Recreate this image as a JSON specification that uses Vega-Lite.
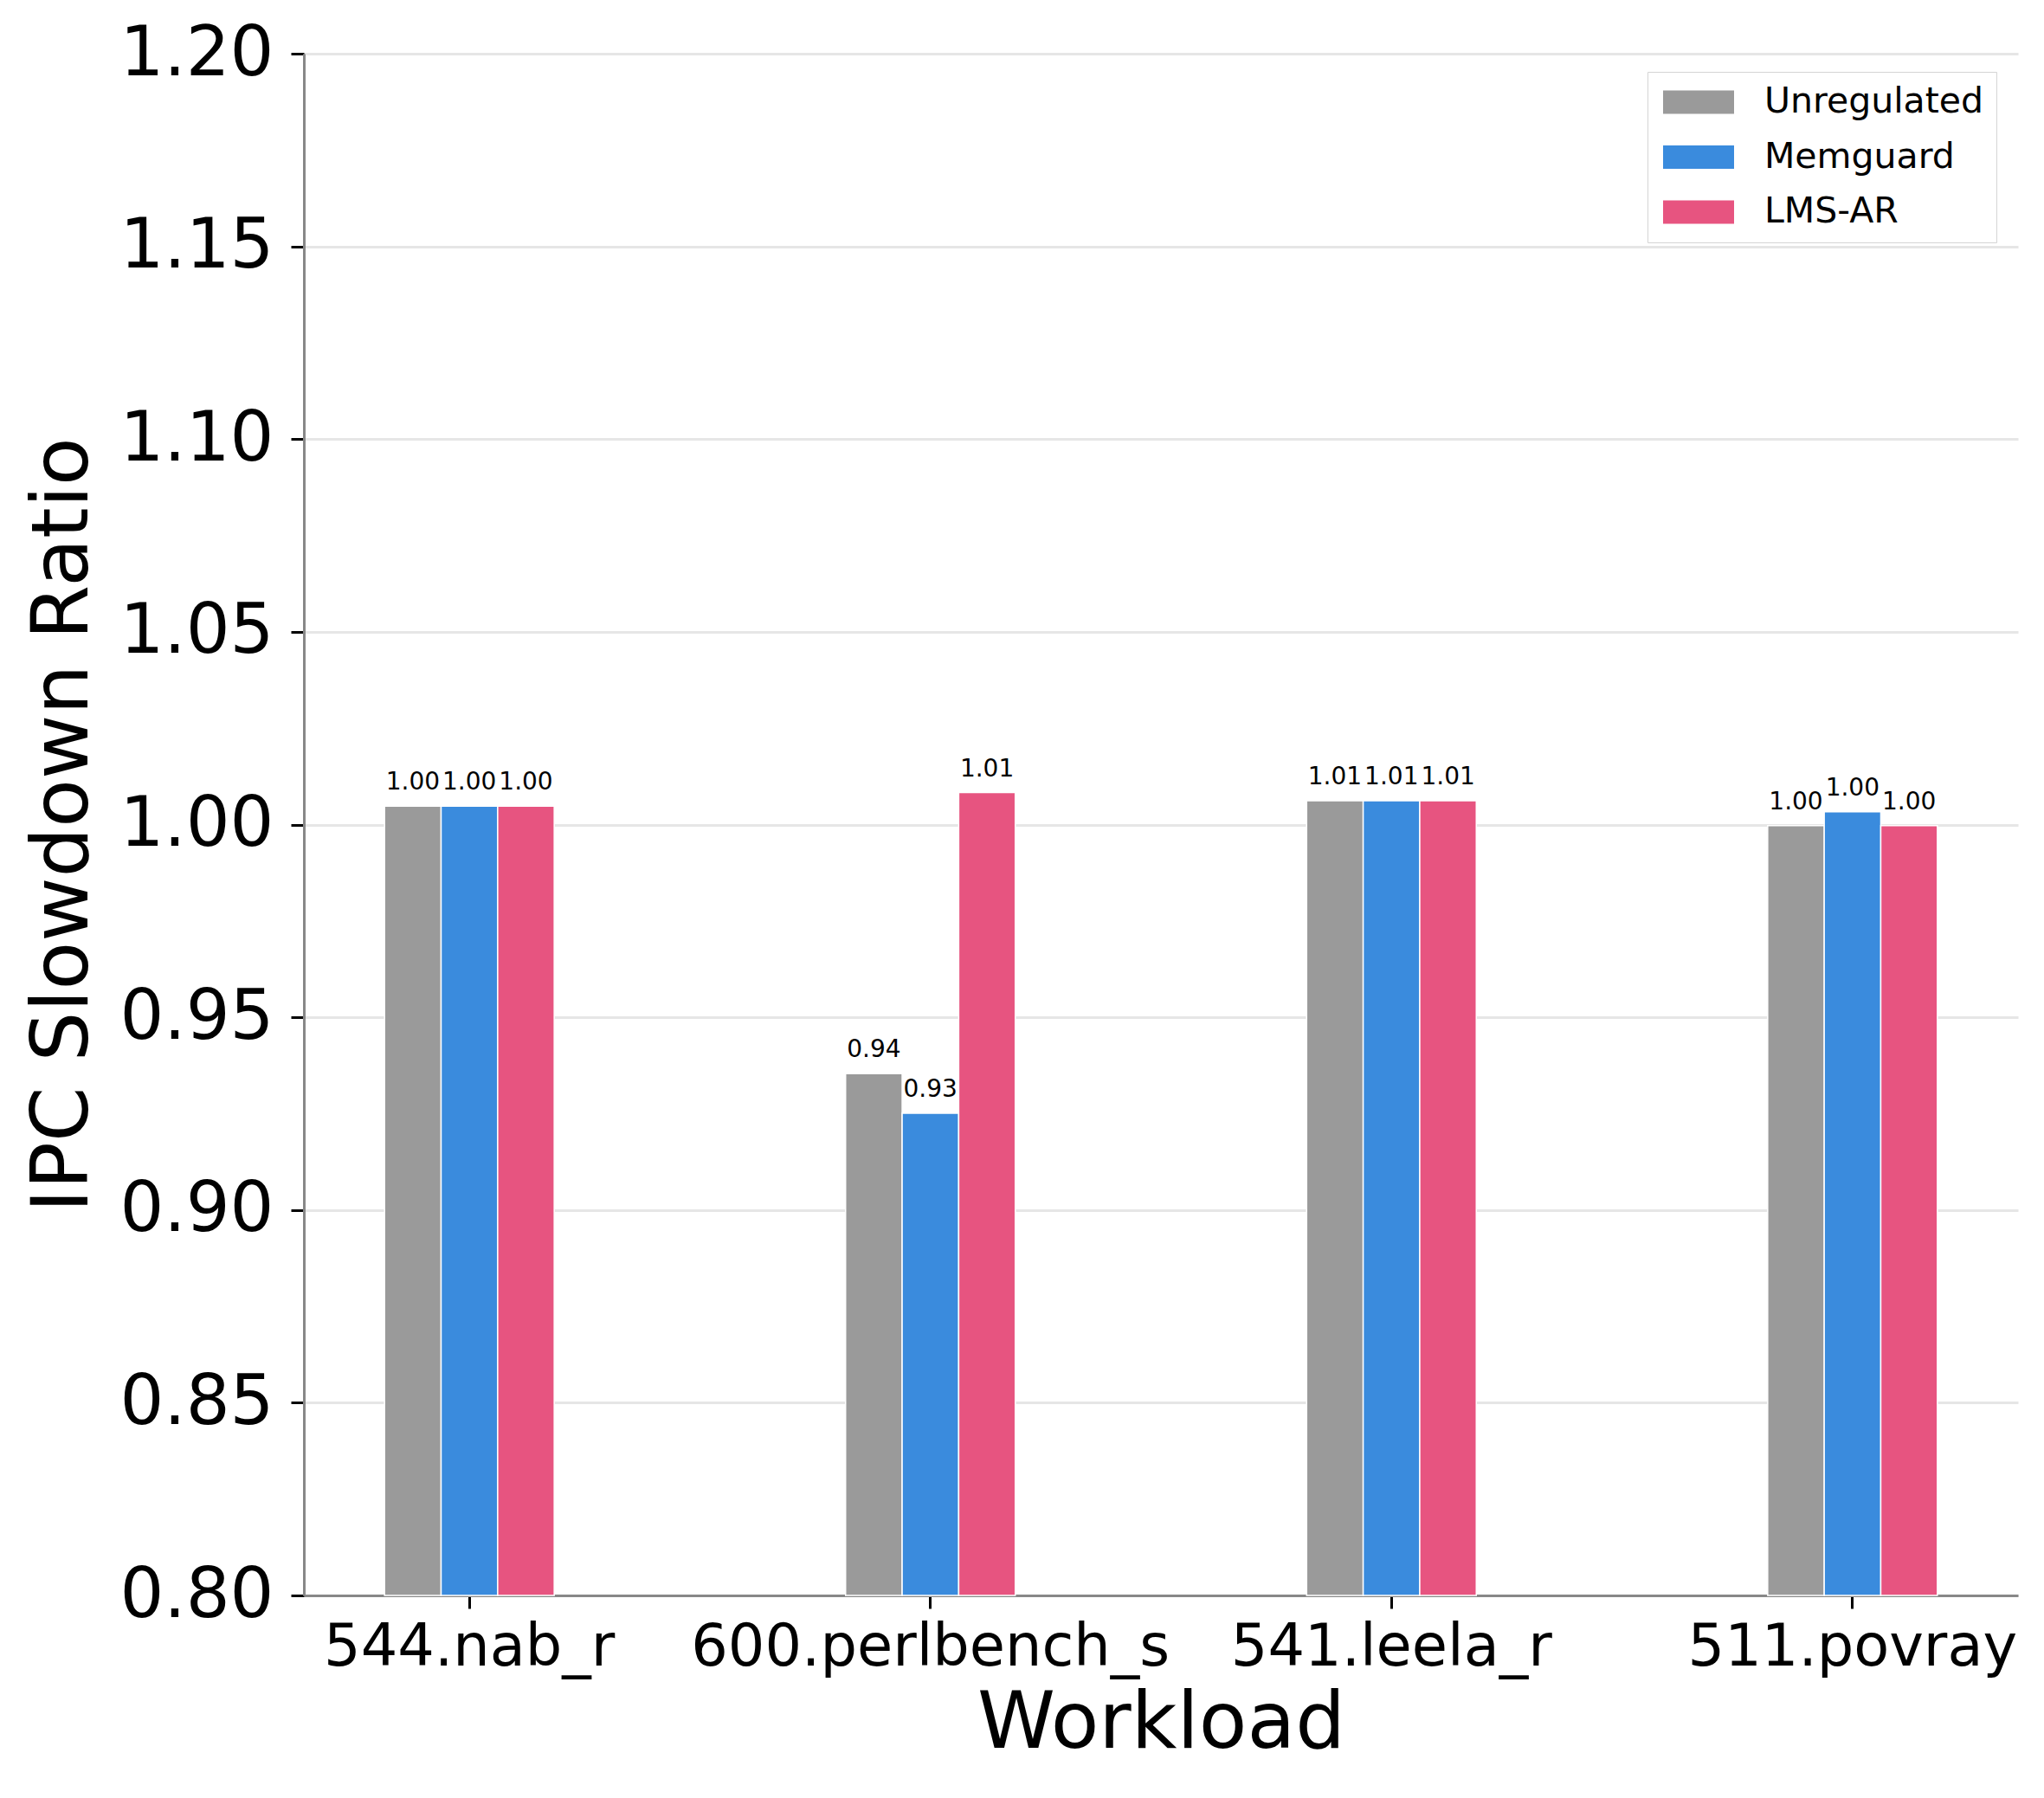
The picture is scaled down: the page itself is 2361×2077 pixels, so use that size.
{
  "$schema": "https://vega.github.io/schema/vega-lite/v6.json",
  "width": 1980,
  "height": 1781,
  "autosize": {"type": "none"},
  "padding": {"left": 351, "top": 62, "right": 30, "bottom": 234},
  "background": "white",
  "config": {
    "view": {"stroke": null},
    "font": "DejaVu Sans",
    "axis": {
      "labelFont": "DejaVu Sans",
      "titleFont": "DejaVu Sans",
      "labelColor": "black",
      "titleColor": "black",
      "titleFontWeight": "normal",
      "labelLimit": 0,
      "domainColor": "#888888",
      "domainWidth": 3,
      "tickColor": "black",
      "tickWidth": 3,
      "tickSize": 15
    }
  },
  "data": {
    "values": [
      {"workload": "544.nab_r", "method": "Unregulated", "ratio": 1.0048},
      {"workload": "544.nab_r", "method": "Memguard", "ratio": 1.0048},
      {"workload": "544.nab_r", "method": "LMS-AR", "ratio": 1.0048},
      {"workload": "600.perlbench_s", "method": "Unregulated", "ratio": 0.9354},
      {"workload": "600.perlbench_s", "method": "Memguard", "ratio": 0.9251},
      {"workload": "600.perlbench_s", "method": "LMS-AR", "ratio": 1.0083},
      {"workload": "541.leela_r", "method": "Unregulated", "ratio": 1.0062},
      {"workload": "541.leela_r", "method": "Memguard", "ratio": 1.0062},
      {"workload": "541.leela_r", "method": "LMS-AR", "ratio": 1.0062},
      {"workload": "511.povray", "method": "Unregulated", "ratio": 0.9997},
      {"workload": "511.povray", "method": "Memguard", "ratio": 1.0033},
      {"workload": "511.povray", "method": "LMS-AR", "ratio": 0.9997}
    ]
  },
  "encoding": {
    "x": {
      "field": "workload",
      "type": "nominal",
      "sort": ["544.nab_r", "600.perlbench_s", "541.leela_r", "511.povray"],
      "scale": {"paddingInner": 0.632, "paddingOuter": 0.175},
      "axis": {
        "title": "Workload",
        "labelAngle": 0,
        "labelFontSize": 67,
        "labelPadding": 12,
        "titleFontSize": 91,
        "titlePadding": 10,
        "grid": false
      }
    },
    "xOffset": {
      "field": "method",
      "type": "nominal",
      "sort": ["Unregulated", "Memguard", "LMS-AR"],
      "scale": {"paddingInner": 0, "paddingOuter": 0}
    }
  },
  "layer": [
    {
      "mark": {"type": "bar", "stroke": "white", "strokeWidth": 1.5},
      "encoding": {
        "y": {
          "field": "ratio",
          "type": "quantitative",
          "scale": {"domain": [0.8, 1.2], "zero": false, "nice": false},
          "axis": {
            "title": "IPC Slowdown Ratio",
            "values": [0.8, 0.85, 0.9, 0.95, 1.0, 1.05, 1.1, 1.15, 1.2],
            "format": ".2f",
            "labelFontSize": 80,
            "labelPadding": 20,
            "titleFontSize": 91,
            "titlePadding": 32,
            "grid": true,
            "gridColor": "#e6e6e6",
            "gridWidth": 3
          }
        },
        "y2": {"datum": 0.8},
        "color": {
          "field": "method",
          "type": "nominal",
          "sort": ["Unregulated", "Memguard", "LMS-AR"],
          "scale": {
            "domain": ["Unregulated", "Memguard", "LMS-AR"],
            "range": ["#9a9a9a", "#3a8bdd", "#e75480"]
          },
          "legend": {
            "title": null,
            "orient": "none",
            "legendX": 1552,
            "legendY": 21,
            "padding": 14.5,
            "fillColor": "white",
            "strokeColor": "#d5d5d5",
            "cornerRadius": 0,
            "symbolType": "M-2,-0.66H2V0.66H-2Z",
            "symbolSize": 1681,
            "symbolOffset": 24,
            "symbolStrokeWidth": 0,
            "symbolOpacity": 1,
            "labelFont": "DejaVu Sans",
            "labelFontSize": 41,
            "labelColor": "black",
            "labelLimit": 0,
            "labelOffset": 55.5,
            "rowPadding": 21.5,
            "encode": {
              "legend": {"update": {"strokeWidth": {"value": 3.3}}}
            }
          }
        }
      }
    },
    {
      "mark": {
        "type": "text",
        "baseline": "alphabetic",
        "align": "center",
        "dy": -19,
        "fontSize": 28,
        "font": "DejaVu Sans",
        "color": "black"
      },
      "encoding": {
        "y": {"field": "ratio", "type": "quantitative"},
        "text": {"field": "ratio", "type": "quantitative", "format": ".2f"}
      }
    }
  ]
}
